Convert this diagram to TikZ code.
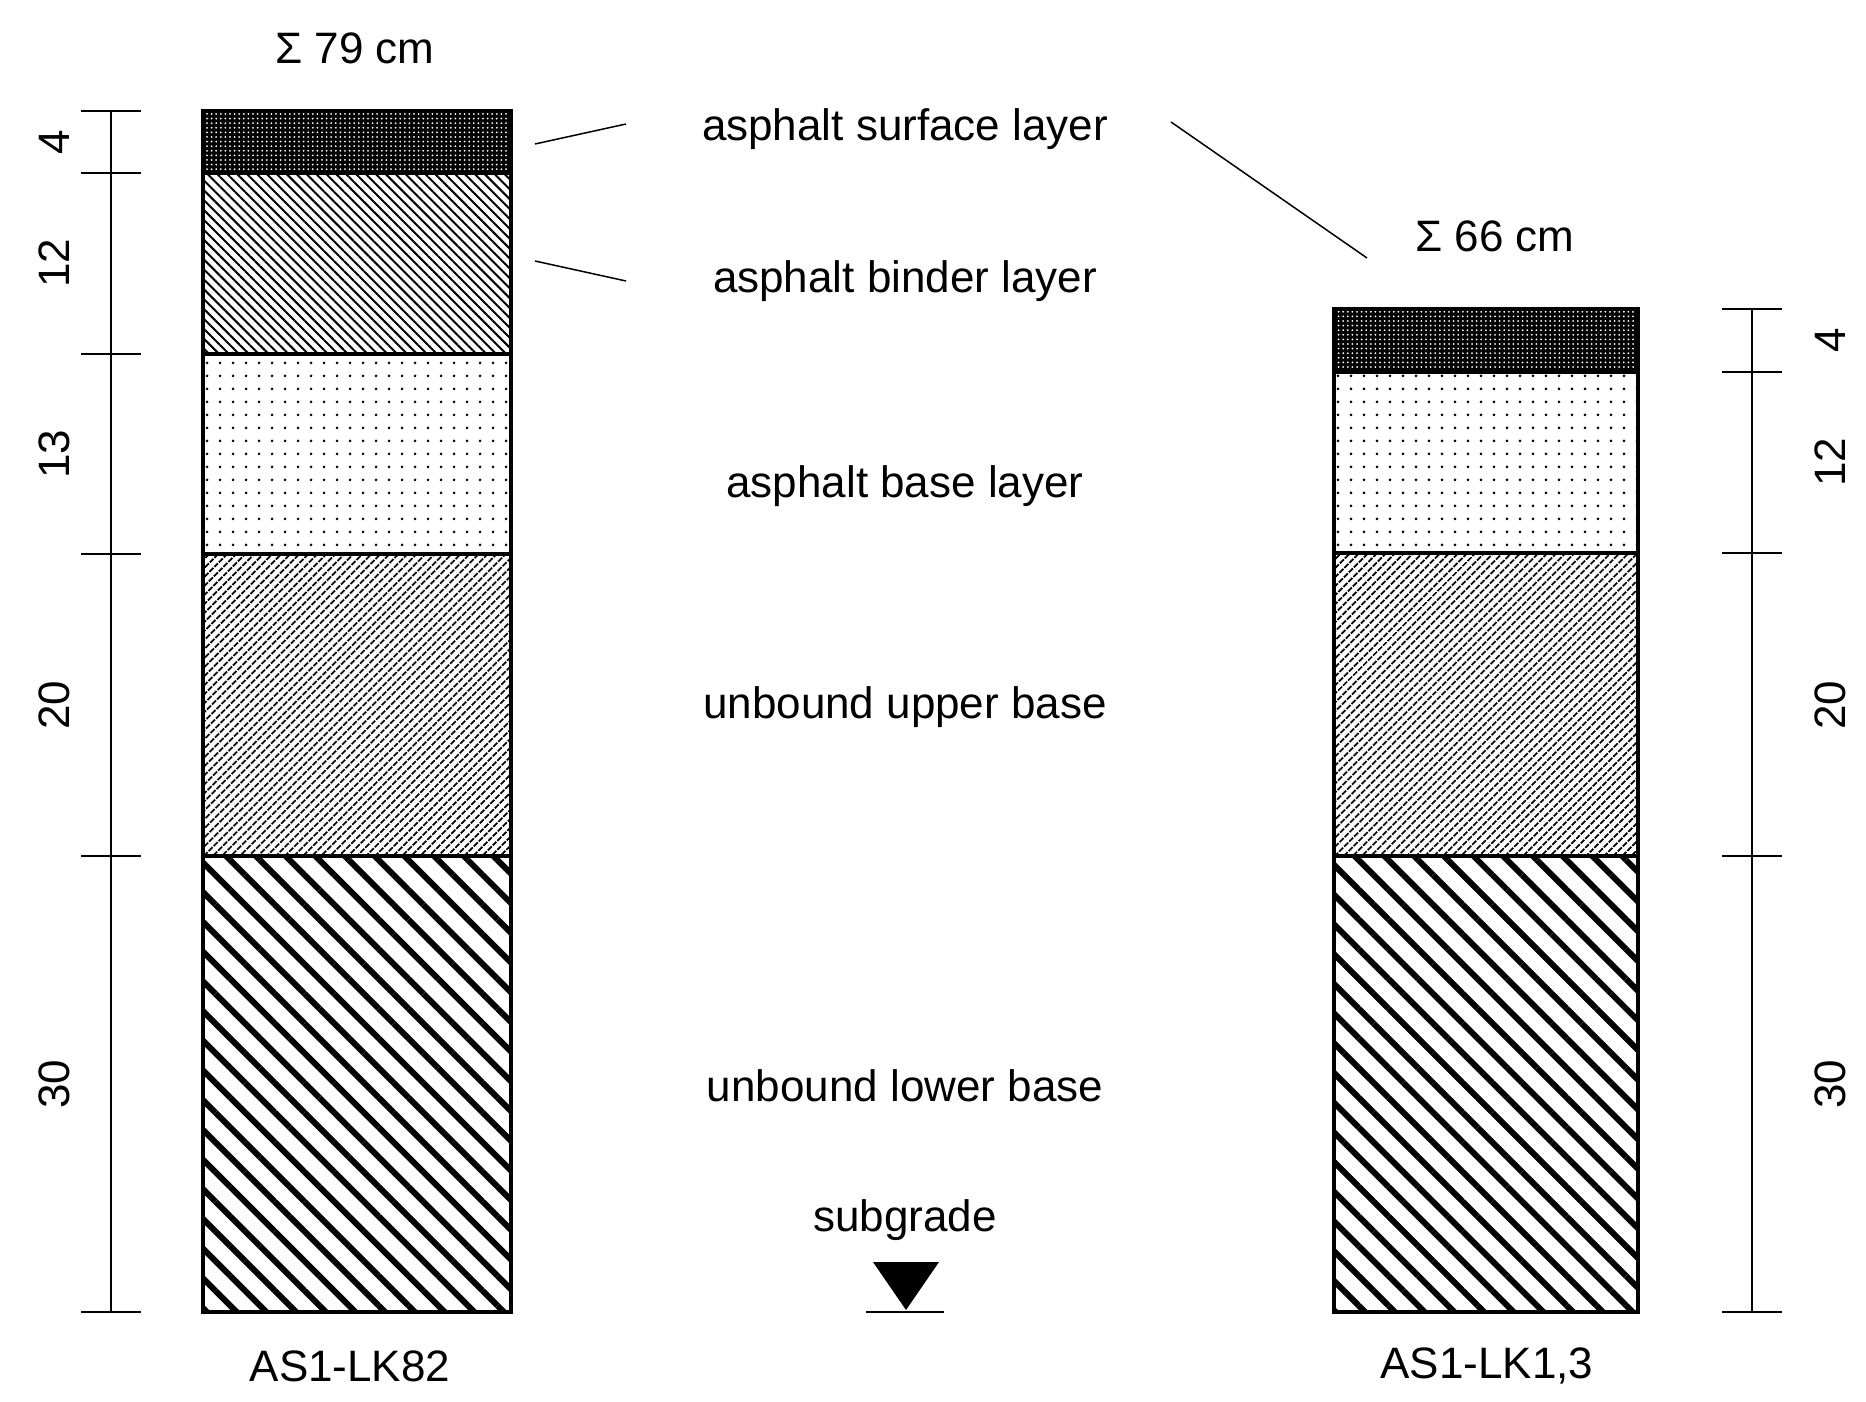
\documentclass[tikz,border=0pt]{standalone}
\usepackage{fontspec}
\setmainfont{Liberation Sans}
\usetikzlibrary{patterns.meta}
\begin{document}
\begin{tikzpicture}[x=1pt,y=-1pt,
  lay/.style={draw=black,line width=3.5pt},
  surf/.style={lay,fill=black,pattern={Dots[distance=4.6pt,radius=1pt]},pattern color=white},
  bind/.style={lay,pattern={Lines[angle=-45,distance=7pt,line width=2pt]}},
  base/.style={lay,pattern={Dots[distance=13pt,radius=1.6pt]}},
  upper/.style={lay,pattern={Lines[angle=45,distance=6.5pt,line width=2pt]}},
  lower/.style={lay,pattern={Lines[angle=-45,distance=21pt,line width=6pt]}},
  txt/.style={font=\fontsize{44}{48}\selectfont},
  dim/.style={line width=1.5pt},
  thin/.style={line width=1.5pt}]
\useasboundingbox (0,0) rectangle (1866,1402);
% left column
\fill[black] (203,111) rectangle (511,173);
\draw[surf] (203,111) rectangle (511,173);
\draw[bind] (203,173) rectangle (511,354);
\draw[base] (203,354) rectangle (511,554);
\draw[upper] (203,554) rectangle (511,856);
\draw[lower] (203,856) rectangle (511,1312);
% right column
\fill[black] (1334,309) rectangle (1638,372);
\draw[surf] (1334,309) rectangle (1638,372);
\draw[base] (1334,372) rectangle (1638,553);
\draw[upper] (1334,553) rectangle (1638,856);
\draw[lower] (1334,856) rectangle (1638,1312);
% left dims
\draw[dim] (111,111) -- (111,1312);
\foreach \y in {111,173,354,554,856,1312} \draw[dim] (81,\y) -- (141,\y);
\node[txt,rotate=90] at (54,142) {4};
\node[txt,rotate=90] at (54,263) {12};
\node[txt,rotate=90] at (54,454) {13};
\node[txt,rotate=90] at (54,705) {20};
\node[txt,rotate=90] at (54,1084) {30};
% right dims
\draw[dim] (1752,309) -- (1752,1312);
\foreach \y in {309,372,553,856,1312} \draw[dim] (1722,\y) -- (1782,\y);
\node[txt,rotate=90] at (1830,340) {4};
\node[txt,rotate=90] at (1830,462) {12};
\node[txt,rotate=90] at (1830,705) {20};
\node[txt,rotate=90] at (1830,1084) {30};
% texts
\node[txt] (s79) at (355,48) {Σ 79 cm};
\node[txt] (s66) at (1495,236) {Σ 66 cm};
\node[txt] (surf) at (905,129) {asphalt surface layer};
\node[txt] (bind) at (905,281) {asphalt binder layer};
\node[txt] at (905,486) {asphalt base layer};
\node[txt] at (905,707) {unbound upper base};
\node[txt] at (905,1086) {unbound lower base};
\node[txt] (sub) at (905,1220) {subgrade};
\node[txt] at (350,1366) {AS1-LK82};
\node[txt] at (1487,1366) {AS1-LK1,3};
% leaders
\coordinate (l1) at (535,144); \coordinate (l2) at (535,261); \coordinate (l3) at (1367,258);
\draw[thin] (l1) -- (626,124);
\draw[thin] (l2) -- (626,281);
\draw[thin] (1171,122) -- (l3);
% subgrade marker
\fill (873,1262) -- (939,1262) -- (906,1310) -- cycle;
\draw[thin] (866,1312) -- (944,1312);
\end{tikzpicture}
\end{document}
